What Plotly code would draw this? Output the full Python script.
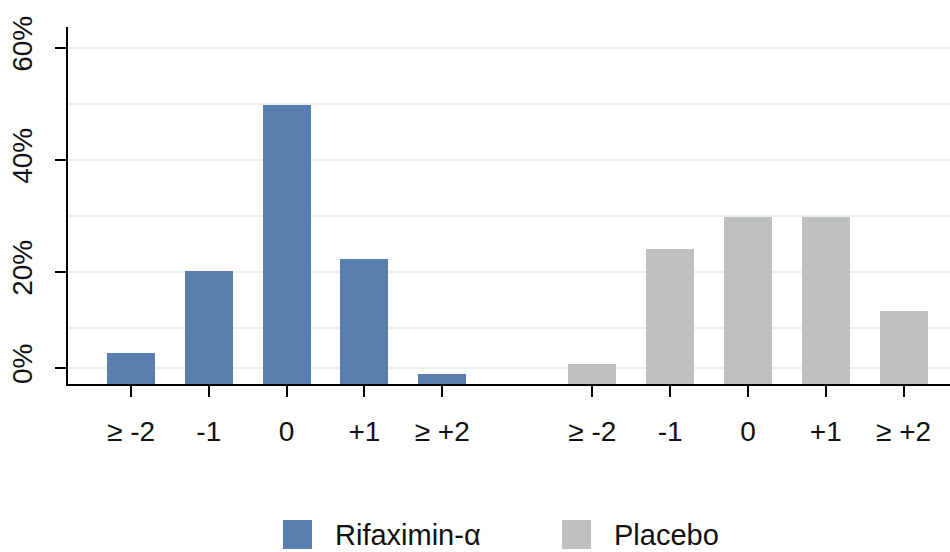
import plotly.graph_objects as go

categories = ["≥ -2", "-1", "0", "+1", "≥ +2"]
rifaximin = [5.6, 20.2, 49.8, 22.3, 1.8]
placebo = [3.6, 24.1, 29.8, 29.8, 13.0]
series_names = ["Rifaximin-α", "Placebo"]
y_tick_labels = ["0%", "20%", "40%", "60%"]

BLUE = "#5A7DB0"
GRAY = "#BFC0C0"
GRID = "#EAF0F3"
FONT = "Liberation Sans, Arial, Helvetica, sans-serif"

group_gap = 5.93
x_rif = [i for i in range(len(categories))]
x_pla = [i + group_gap for i in range(len(categories))]

fig = go.Figure()
fig.add_trace(go.Bar(x=x_rif, y=rifaximin, name=series_names[0], marker_color=BLUE,
                     marker_line_width=0, width=0.617, showlegend=False))
fig.add_trace(go.Bar(x=x_pla, y=placebo, name=series_names[1], marker_color=GRAY,
                     marker_line_width=0, width=0.617, showlegend=False))

fig.update_layout(
    width=950, height=552,
    margin=dict(l=68, r=0, t=27, b=168),
    paper_bgcolor="white", plot_bgcolor="white",
    font=dict(family=FONT, size=27, color="#111111"),
    bargap=0,
)
fig.update_xaxes(
    range=[-0.81, 10.527],
    tickmode="array", tickvals=x_rif + x_pla, ticktext=categories + categories,
    ticks="outside", ticklen=11, tickwidth=2, tickcolor="black",
    showline=True, linecolor="black", linewidth=2,
    showgrid=False, zeroline=False,
    tickfont=dict(size=28),
    ticklabelstandoff=10,
)
fig.update_yaxes(
    range=[0, 63.75],
    tickmode="array", tickvals=[2.86, 20, 40, 60], ticktext=y_tick_labels,
    tickangle=-90,
    ticks="outside", ticklen=11, tickwidth=2, tickcolor="black",
    showline=True, linecolor="black", linewidth=2,
    showgrid=True, gridcolor=GRID, gridwidth=2,
    minor=dict(tickmode="array", tickvals=[10, 30, 50], showgrid=True,
               gridcolor=GRID, gridwidth=2, ticks=""),
    zeroline=False,
    tickfont=dict(size=28),
    ticklabelstandoff=12,
)

# legend drawn as shapes + text below plot
plot_w = 882.0
plot_h = 357.0
def px_x(p):
    return (p - 68) / plot_w
def px_y(p):
    return (384 - p) / plot_h

legend_items = [(series_names[0], BLUE, 283), (series_names[1], GRAY, 562)]
for name, col, x0 in legend_items:
    fig.add_shape(type="rect", xref="paper", yref="paper",
                  x0=px_x(x0), x1=px_x(x0 + 29), y0=px_y(549), y1=px_y(520),
                  fillcolor=col, line_width=0)
    fig.add_annotation(xref="paper", yref="paper", x=px_x(x0 + 50), y=px_y(534.5),
                       text=name, showarrow=False, xanchor="left", yanchor="middle",
                       font=dict(family=FONT, size=29, color="#111111"))

fig.write_html("out.html", config={"displayModeBar": False},
               post_script="document.body.style.margin='0';document.body.style.overflow='hidden';")
